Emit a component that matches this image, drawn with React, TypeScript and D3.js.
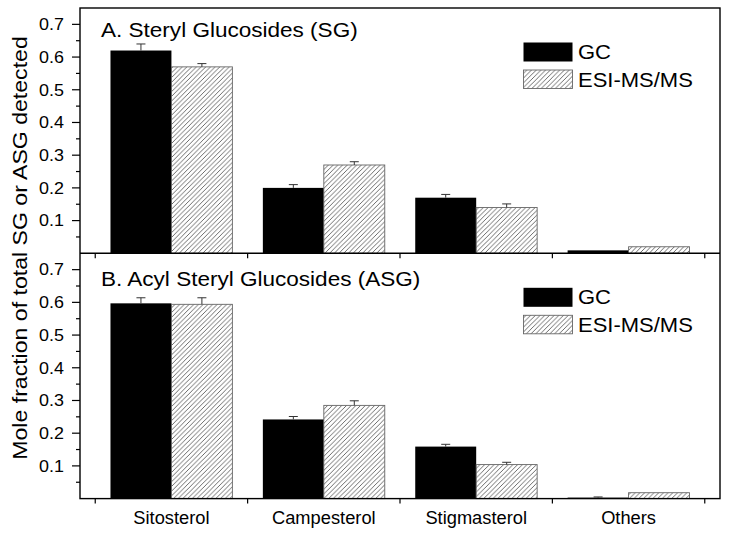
import React from "react";
import * as d3 from "d3";

const categories = ["Sitosterol", "Campesterol", "Stigmasterol", "Others"];
const seriesNames = ["GC", "ESI-MS/MS"];

const sgGC = [0.62, 0.2, 0.17, 0.009];
const sgGCErr = [0.02, 0.01, 0.01, 0.0];
const sgESI = [0.57, 0.27, 0.14, 0.02];
const sgESIErr = [0.01, 0.01, 0.011, 0.0];

const asgGC = [0.597, 0.242, 0.159, 0.003];
const asgGCErr = [0.017, 0.009, 0.007, 0.002];
const asgESI = [0.594, 0.285, 0.104, 0.018];
const asgESIErr = [0.02, 0.014, 0.007, 0.0];

const panelTitles = ["A. Steryl Glucosides (SG)", "B. Acyl Steryl Glucosides (ASG)"];
const yTickValues = [0.1, 0.2, 0.3, 0.4, 0.5, 0.6, 0.7];
const yMinorValues = [0.05, 0.15, 0.25, 0.35, 0.45, 0.55, 0.65];
const yLabel = "Mole fraction of total SG or ASG detected";

const W = 729;
const H = 535;
const left = 80;
const right = 720;
const top = 8;
const panelH = 245.3;
const FONT = "Liberation Sans, Arial, sans-serif";

const panels = [
  { title: panelTitles[0], gc: sgGC, gcErr: sgGCErr, esi: sgESI, esiErr: sgESIErr },
  { title: panelTitles[1], gc: asgGC, gcErr: asgGCErr, esi: asgESI, esiErr: asgESIErr },
];

export default function App() {
  const x = d3.scaleLinear().domain([-0.6, 3.6]).range([left, right]);
  const barW = x(0.4) - x(0);
  const xTicks = d3.range(-0.5, 4, 1);

  return (
    <svg
      width={W}
      height={H}
      style={{ position: "absolute", left: 0, top: 0, background: "#fff" }}
      fontFamily={FONT}
    >
      <defs>
        <pattern id="hatch" patternUnits="userSpaceOnUse" width={4.7} height={4.7}>
          <path
            d="M0,4.7 L4.7,0 M-1,1 L1,-1 M3.7,5.7 L5.7,3.7"
            stroke="#444"
            strokeWidth={0.8}
          />
        </pattern>
      </defs>
      <rect x={0} y={0} width={W} height={H} fill="#fff" />
      {panels.map((p, pi) => {
        const pTop = top + pi * panelH;
        const y = d3.scaleLinear().domain([0, 0.75]).range([pTop + panelH, pTop]);
        const base = y(0);
        return (
          <g key={pi}>
            {categories.map((c, i) => {
              const cx = x(i);
              const gcTop = y(p.gc[i]);
              const esiTop = y(p.esi[i]);
              return (
                <g key={c}>
                  <rect x={cx - barW} y={gcTop} width={barW} height={base - gcTop} fill="#000" />
                  <rect
                    x={cx}
                    y={esiTop}
                    width={barW}
                    height={base - esiTop}
                    fill="url(#hatch)"
                    stroke="#666"
                    strokeWidth={0.9}
                  />
                  {p.gcErr[i] > 0 && (
                    <g stroke="#333" strokeWidth={1}>
                      <line x1={cx - barW / 2} x2={cx - barW / 2} y1={gcTop} y2={y(p.gc[i] + p.gcErr[i])} />
                      <line x1={cx - barW / 2 - 4.5} x2={cx - barW / 2 + 4.5} y1={y(p.gc[i] + p.gcErr[i])} y2={y(p.gc[i] + p.gcErr[i])} />
                    </g>
                  )}
                  {p.esiErr[i] > 0 && (
                    <g stroke="#333" strokeWidth={1}>
                      <line x1={cx + barW / 2} x2={cx + barW / 2} y1={esiTop} y2={y(p.esi[i] + p.esiErr[i])} />
                      <line x1={cx + barW / 2 - 4.5} x2={cx + barW / 2 + 4.5} y1={y(p.esi[i] + p.esiErr[i])} y2={y(p.esi[i] + p.esiErr[i])} />
                    </g>
                  )}
                </g>
              );
            })}
            {yTickValues.map((v) => (
              <g key={v}>
                <line x1={left - 8} x2={left} y1={y(v)} y2={y(v)} stroke="#000" strokeWidth={1.2} />
                <text
                  transform={`translate(64,${y(v)}) scale(1.12,1)`}
                  textAnchor="end"
                  dy="0.36em"
                  fontSize={16}
                  fill="#000"
                >
                  {d3.format(".1f")(v)}
                </text>
              </g>
            ))}
            {yMinorValues.map((v) => (
              <line key={v} x1={left - 4} x2={left} y1={y(v)} y2={y(v)} stroke="#000" strokeWidth={1.2} />
            ))}
            {xTicks.map((t) => (
              <line key={t} x1={x(t)} x2={x(t)} y1={base} y2={base + 5} stroke="#000" strokeWidth={1.2} />
            ))}
            <text
              transform={`translate(101,${pTop + (pi === 0 ? 29.3 : 32.5)}) scale(1.1,1)`}
              fontSize={20.5}
              fill="#000"
            >
              {p.title}
            </text>
            <rect x={523.5} y={pTop + 34.5} width={49} height={19} fill="#000" />
            <rect
              x={523.5}
              y={pTop + 62}
              width={49}
              height={18.5}
              fill="url(#hatch)"
              stroke="#666"
              strokeWidth={0.9}
            />
            <text transform={`translate(578,${pTop + 51})  scale(1.1,1)`} fontSize={20} fill="#000">
              {seriesNames[0]}
            </text>
            <text transform={`translate(578,${pTop + 79})  scale(1.1,1)`} fontSize={20} fill="#000">
              {seriesNames[1]}
            </text>
          </g>
        );
      })}
      <rect
        x={left}
        y={top}
        width={right - left}
        height={panelH * 2}
        fill="none"
        stroke="#000"
        strokeWidth={1.4}
      />
      <line x1={left} x2={right} y1={top + panelH} y2={top + panelH} stroke="#000" strokeWidth={1.4} />
      {categories.map((c, i) => (
        <text key={c} x={x(i)} y={524} textAnchor="middle" fontSize={18.3} fill="#000">
          {c}
        </text>
      ))}
      <text
        transform={`translate(26.5,248) rotate(-90) scale(1.1,1)`}
        textAnchor="middle"
        fontSize={21}
        fill="#000"
      >
        {yLabel}
      </text>
    </svg>
  );
}
